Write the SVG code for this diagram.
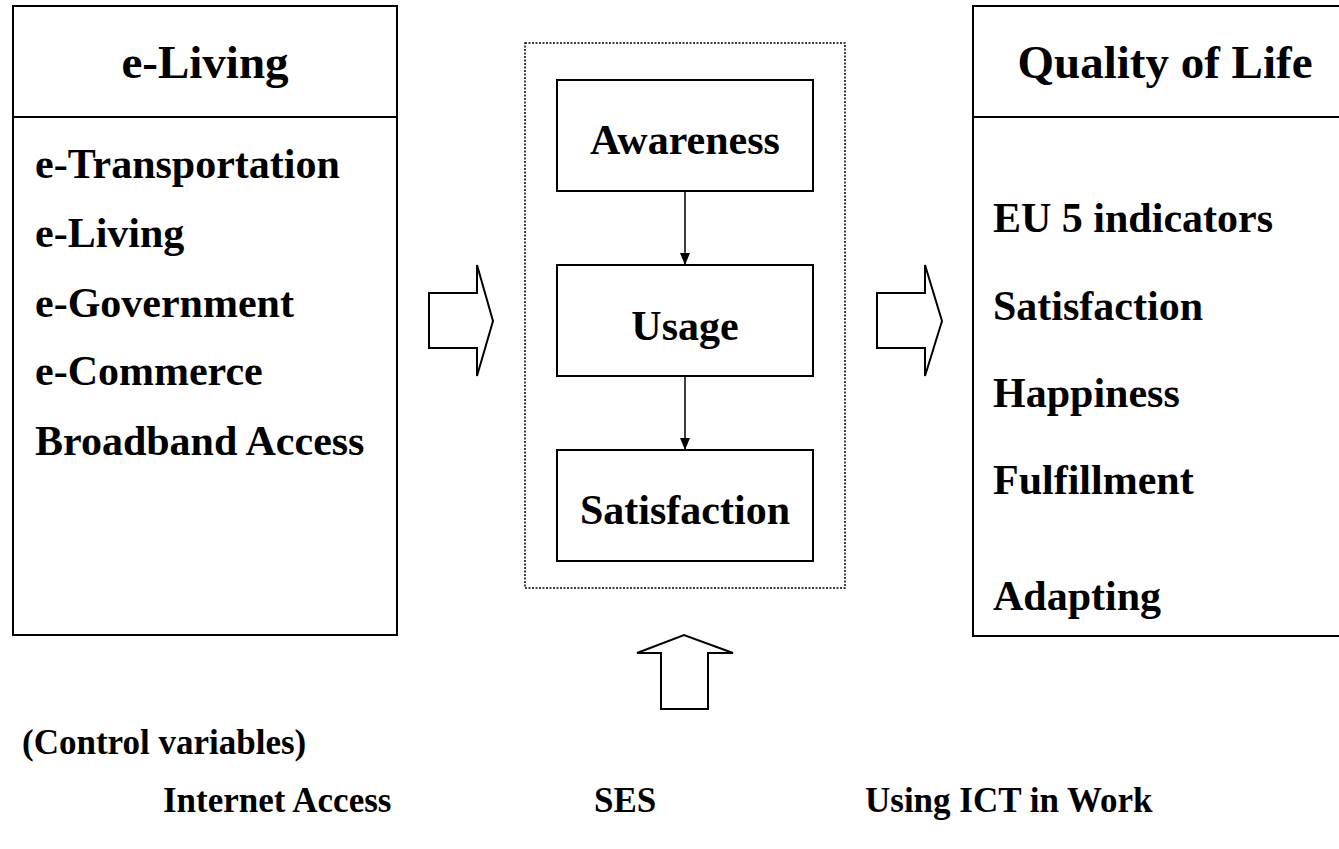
<svg xmlns="http://www.w3.org/2000/svg" width="1339" height="849" viewBox="0 0 1339 849">
<style>
.bx{fill:#fff;stroke:#000;stroke-width:2}
.dot{fill:none;stroke:#000;stroke-width:1.5;stroke-dasharray:2 1.5}
.ba{fill:#fff;stroke:#000;stroke-width:2;stroke-linejoin:miter}
.cn{stroke:#000;stroke-width:1.5;fill:none}
text{font-family:"Liberation Serif","Times New Roman",serif;font-weight:bold;fill:#000}
.h{font-size:47px;text-anchor:middle}
.t{font-size:42px}
.c{font-size:42px;text-anchor:middle}
.s{font-size:35px}
</style>
<defs>
<marker id="ah" markerWidth="12" markerHeight="14" refX="11" refY="6" orient="auto" markerUnits="userSpaceOnUse" viewBox="0 0 12 12">
<path d="M0,1 L12,6 L0,11 Z" fill="#000"/>
</marker>
</defs>
<rect width="1339" height="849" fill="#fff"/>
<g id="eliving">
<rect class="bx" x="13" y="6" width="384" height="629"/>
<line class="cn" x1="13" y1="117" x2="397" y2="117" style="stroke-width:2"/>
<text class="h" x="205" y="78">e-Living</text>
<text class="t" x="35" y="178">e-Transportation</text>
<text class="t" x="35" y="247">e-Living</text>
<text class="t" x="35" y="317">e-Government</text>
<text class="t" x="35" y="385">e-Commerce</text>
<text class="t" x="35" y="455">Broadband Access</text>
</g>
<g id="qol">
<rect class="bx" x="973" y="6" width="390" height="630"/>
<line class="cn" x1="973" y1="117" x2="1363" y2="117" style="stroke-width:2"/>
<text class="h" x="1165" y="78">Quality of Life</text>
<text class="t" x="993" y="232">EU 5 indicators</text>
<text class="t" x="993" y="320">Satisfaction</text>
<text class="t" x="993" y="407">Happiness</text>
<text class="t" x="993" y="494">Fulfillment</text>
<text class="t" x="993" y="610">Adapting</text>
</g>
<g id="process">
<rect class="dot" x="525" y="43" width="320" height="545"/>
</g>
<g id="awareness">
<rect class="bx" x="557" y="80" width="256" height="111"/>
<text class="c" x="685" y="154">Awareness</text>
</g>
<g id="usage">
<rect class="bx" x="557" y="265" width="256" height="111"/>
<text class="c" x="685" y="340">Usage</text>
</g>
<g id="satisfaction">
<rect class="bx" x="557" y="450" width="256" height="111"/>
<text class="c" x="685" y="524">Satisfaction</text>
</g>
<g id="connectors">
<line class="cn" x1="685" y1="191" x2="685" y2="264" marker-end="url(#ah)"/>
<line class="cn" x1="685" y1="376" x2="685" y2="449" marker-end="url(#ah)"/>
<polygon class="ba" points="429,293 477,293 477,265 493,321 477,376 477,348 429,348"/>
<polygon class="ba" points="877,293 925,293 925,265 942,321 925,376 925,348 877,348"/>
<polygon class="ba" points="661,709 661,653 637,653 684,635 733,653 708,653 708,709"/>
</g>
<g id="controls">
<text class="s" x="22" y="754">(Control variables)</text>
<text class="s" x="163" y="812">Internet Access</text>
<text class="s" x="594" y="812">SES</text>
<text class="s" x="865" y="812">Using ICT in Work</text>
</g>
</svg>
